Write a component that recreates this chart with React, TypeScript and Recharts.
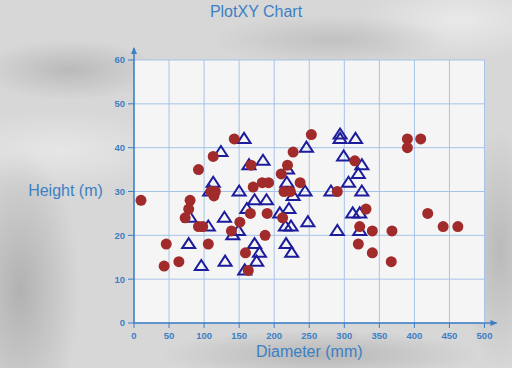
import React from "react";
import { ScatterChart, Scatter, XAxis, YAxis, CartesianGrid, Label } from "recharts";

// circles (red)
const circleDiameter = [
  10, 43, 46, 64, 73, 78, 80, 92, 98, 92, 106, 110, 116, 114, 113, 139, 143, 151, 159, 163,
  166, 167, 170, 183, 192, 187, 190, 210, 212, 214, 223, 219, 227, 237, 253, 290, 315, 331, 322, 340,
  368, 320, 340, 367, 390, 409, 390, 419, 441, 462,
];
const circleHeight = [
  28, 13, 18, 14, 24, 26, 28, 22, 22, 35, 18, 30, 30, 29, 38, 21, 42, 23, 16, 12,
  25, 36, 31, 32, 32, 20, 25, 34, 24, 30, 30, 36, 39, 32, 43, 30, 37, 26, 22, 21,
  21, 18, 16, 14, 42, 42, 40, 25, 22, 22,
];

// triangles (blue outline)
const triangleDiameter = [
  80, 78, 96, 106, 108, 113, 124, 129, 130, 141, 149, 150, 157, 158, 161, 164, 172, 172, 175, 179,
  184, 189, 208, 216, 217, 218, 219, 221, 224, 225, 227, 244, 246, 248, 281, 290, 294, 294, 299, 306,
  312, 316, 320, 322, 322, 325, 325,
];
const triangleHeight = [
  24, 18, 13, 22, 30, 32, 39, 24, 14, 20, 21, 30, 42, 12, 26, 36, 28, 18, 14, 16,
  37, 28, 25, 22, 18, 32, 35, 26, 22, 16, 29, 30, 40, 23, 30, 21, 43, 42, 38, 32,
  25, 42, 34, 25, 21, 36, 30,
];

const xTicks = [0, 50, 100, 150, 200, 250, 300, 350, 400, 450, 500];
const yTicks = [0, 10, 20, 30, 40, 50, 60];

const circles = circleDiameter.map((x, i) => ({ x, y: circleHeight[i] }));
const triangles = triangleDiameter.map((x, i) => ({ x, y: triangleHeight[i] }));

const BLUE = "#3d7fc4";
const FONT = "Arial, 'Liberation Sans', sans-serif";

const Dot = (p: any) => <circle cx={p.cx} cy={p.cy} r={5.5} fill="#a12b2b" />;
const Tri = (p: any) => (
  <polygon
    points={`${p.cx},${p.cy - 6} ${p.cx - 6.5},${p.cy + 4} ${p.cx + 6.5},${p.cy + 4}`}
    fill="none"
    stroke="#1c1c9c"
    strokeWidth={2}
  />
);

const marble = [
  "radial-gradient(ellipse 90px 30px at 70px 70px, rgba(150,150,150,0.45), transparent)",
  "radial-gradient(ellipse 120px 25px at 330px 40px, rgba(160,160,160,0.4), transparent)",
  "radial-gradient(ellipse 60px 140px at 20px 290px, rgba(140,140,140,0.5), transparent)",
  "radial-gradient(ellipse 160px 25px at 320px 355px, rgba(150,150,150,0.5), transparent)",
  "radial-gradient(ellipse 40px 120px at 500px 250px, rgba(150,150,150,0.45), transparent)",
  "radial-gradient(ellipse 100px 40px at 460px 20px, rgba(245,245,245,0.6), transparent)",
  "radial-gradient(ellipse 120px 40px at 60px 150px, rgba(240,240,240,0.6), transparent)",
].join(",");

export default function App() {
  return (
    <div
      style={{
        position: "absolute",
        left: 0,
        top: 0,
        width: 512,
        height: 368,
        background: `${marble}, #d7d7d7`,
        fontFamily: FONT,
      }}
    >
      <div
        style={{
          position: "absolute",
          top: 3,
          left: 0,
          width: 512,
          textAlign: "center",
          color: BLUE,
          fontSize: 16,
        }}
      >
        PlotXY Chart
      </div>
      <ScatterChart width={512} height={368} margin={{ top: 60, right: 27.5, bottom: 15, left: 94 }}>
        <defs>
          <marker
            id="arrowHead"
            viewBox="0 0 14 10"
            refX={0}
            refY={5}
            markerWidth={14}
            markerHeight={10}
            markerUnits="userSpaceOnUse"
            orient="auto-start-reverse"
          >
            <path d="M0 5 H12" stroke={BLUE} strokeWidth={1.5} />
            <path d="M6 2 L13 5 L6 8 Z" fill={BLUE} />
          </marker>
        </defs>
        <CartesianGrid fill="#f5f5f5" stroke="#a6c3ea" strokeWidth={1} />
        <XAxis
          type="number"
          dataKey="x"
          domain={[0, 500]}
          ticks={xTicks}
          interval={0}
          height={30}
          tickSize={5}
          tickMargin={4}
          tick={{ fill: BLUE, fontSize: 9.5, fontWeight: "bold", fontFamily: FONT }}
          tickLine={{ stroke: BLUE }}
          axisLine={{ stroke: BLUE, strokeWidth: 1.5, markerEnd: "url(#arrowHead)" }}
        >
          <Label
            content={({ viewBox }: any) => (
              <text
                x={viewBox.x + viewBox.width / 2}
                y={viewBox.y + 34}
                textAnchor="middle"
                fill={BLUE}
                fontSize={16}
                fontFamily={FONT}
              >
                Diameter (mm)
              </text>
            )}
          />
        </XAxis>
        <YAxis
          type="number"
          dataKey="y"
          domain={[0, 60]}
          ticks={yTicks}
          interval={0}
          width={40}
          tickSize={6}
          tickMargin={3}
          tick={{ fill: BLUE, fontSize: 9.5, fontWeight: "bold", fontFamily: FONT }}
          tickLine={{ stroke: BLUE }}
          axisLine={{ stroke: BLUE, strokeWidth: 1.5, markerStart: "url(#arrowHead)" }}
        >
          <Label
            content={({ viewBox }: any) => (
              <text
                x={viewBox.x - 28.5}
                y={viewBox.y + 136}
                textAnchor="middle"
                fill={BLUE}
                fontSize={16}
                fontFamily={FONT}
              >
                Height (m)
              </text>
            )}
          />
        </YAxis>
        <Scatter name="triangles" data={triangles} shape={Tri} isAnimationActive={false} />
        <Scatter name="circles" data={circles} shape={Dot} isAnimationActive={false} />
      </ScatterChart>
    </div>
  );
}
